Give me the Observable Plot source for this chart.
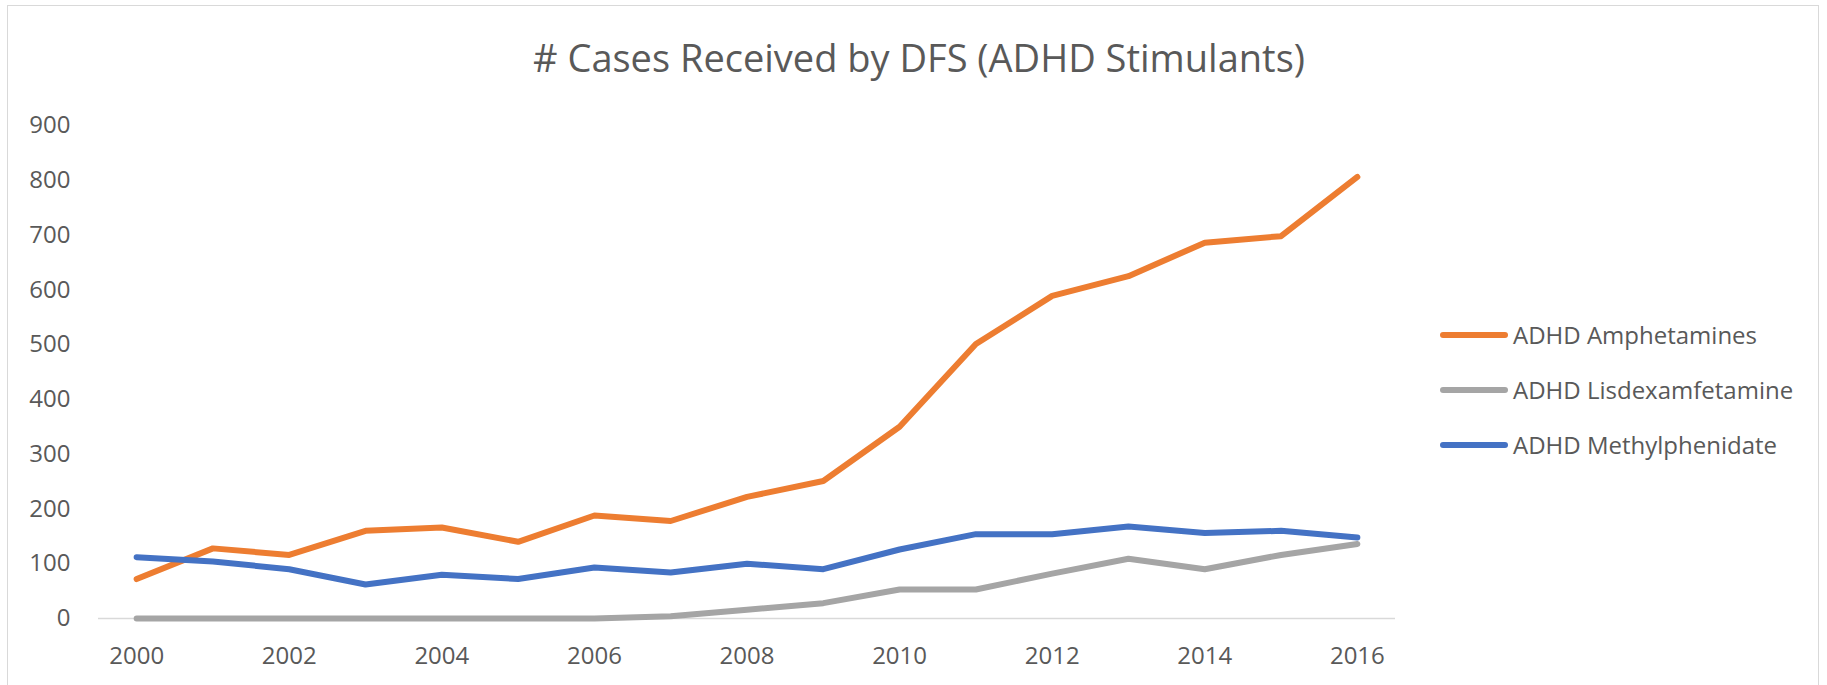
<!DOCTYPE html>
<html>
<head>
<meta charset="utf-8">
<script src="https://cdn.jsdelivr.net/npm/d3@7"></script>
<script src="https://cdn.jsdelivr.net/npm/@observablehq/plot@0.6"></script>
<style>
  html, body { margin: 0; padding: 0; background: #fff; overflow: hidden; }
  #wrap { position: relative; width: 1827px; height: 685px; font-family: "Open Sans", sans-serif; color: #595959; }
  #frame { position: absolute; left: 7px; top: 5px; width: 1812px; height: 700px; border: 1px solid #D9D9D9; box-sizing: border-box; }
  #chart { position: absolute; left: 0; top: 0; }
  #title { position: absolute; left: 0; width: 1838px; top: 38px; text-align: center; font-size: 38px; line-height: 38px; white-space: nowrap; }
  #legend { position: absolute; left: 1440px; top: 0; }
  .item { position: absolute; left: 0; display: flex; align-items: center; height: 24px; white-space: nowrap; font-size: 24px; line-height: 24px; }
  .swatch { width: 68px; height: 6px; border-radius: 3px; margin-right: 5px; }
</style>
</head>
<body>
<div id="wrap">
  <div id="frame"></div>
  <div id="chart"></div>
  <div id="title"># Cases Received by DFS (ADHD Stimulants)</div>
  <div id="legend"></div>
</div>
<script>
// Cases received per year, 2000–2016
const years = [2000, 2001, 2002, 2003, 2004, 2005, 2006, 2007, 2008, 2009, 2010, 2011, 2012, 2013, 2014, 2015, 2016];
const amphetamines     = [72, 128, 116, 160, 166, 140, 188, 178, 222, 251, 350, 501, 589, 625, 686, 698, 806];
const lisdexamfetamine = [0, 0, 0, 0, 0, 0, 0, 4, 16, 28, 53, 53, 82, 109, 90, 116, 136];
const methylphenidate  = [112, 104, 90, 62, 80, 72, 93, 84, 100, 90, 126, 154, 154, 168, 156, 160, 148];

const seriesNames  = ["ADHD Amphetamines", "ADHD Lisdexamfetamine", "ADHD Methylphenidate"];
const seriesColors = ["#ED7D31", "#A5A5A5", "#4472C4"];
const xTicks = [2000, 2002, 2004, 2006, 2008, 2010, 2012, 2014, 2016];
const yTicks = [0, 100, 200, 300, 400, 500, 600, 700, 800, 900];

const seriesValues = [amphetamines, lisdexamfetamine, methylphenidate];
const rows = seriesNames.flatMap((name, i) =>
  years.map((year, j) => ({ series: name, year, value: seriesValues[i][j] }))
);

const chart = Plot.plot({
  width: 1827,
  height: 685,
  marginLeft: 98,
  marginRight: 432,
  marginTop: 125,
  marginBottom: 67,
  style: { fontFamily: "'Open Sans', sans-serif", fontSize: "24px", color: "#595959", background: "transparent" },
  x: { domain: [1999.5, 2016.5] },
  y: { domain: [0, 900] },
  color: { domain: seriesNames, range: seriesColors },
  marks: [
    Plot.ruleY([0], { stroke: "#D9D9D9", strokeWidth: 1.5 }),
    Plot.axisX({ ticks: xTicks, tickFormat: d => String(d), tickSize: 0, tickPadding: 28, label: null }),
    Plot.axisY({ ticks: yTicks, tickSize: 0, tickPadding: 28, label: null }),
    Plot.lineY(rows, {
      x: "year", y: "value", stroke: "series", z: "series",
      strokeWidth: 6, strokeLinecap: "round", strokeLinejoin: "round"
    })
  ]
});
document.getElementById("chart").appendChild(chart);

// Legend to the right of the plot area
const legend = document.getElementById("legend");
const rowY = [335, 390, 445];
seriesNames.forEach((name, i) => {
  const item = document.createElement("div");
  item.className = "item";
  item.style.top = (rowY[i] - 12) + "px";
  const sw = document.createElement("div");
  sw.className = "swatch";
  sw.style.background = seriesColors[i];
  const label = document.createElement("span");
  label.textContent = name;
  item.appendChild(sw);
  item.appendChild(label);
  legend.appendChild(item);
});
</script>
</body>
</html>
